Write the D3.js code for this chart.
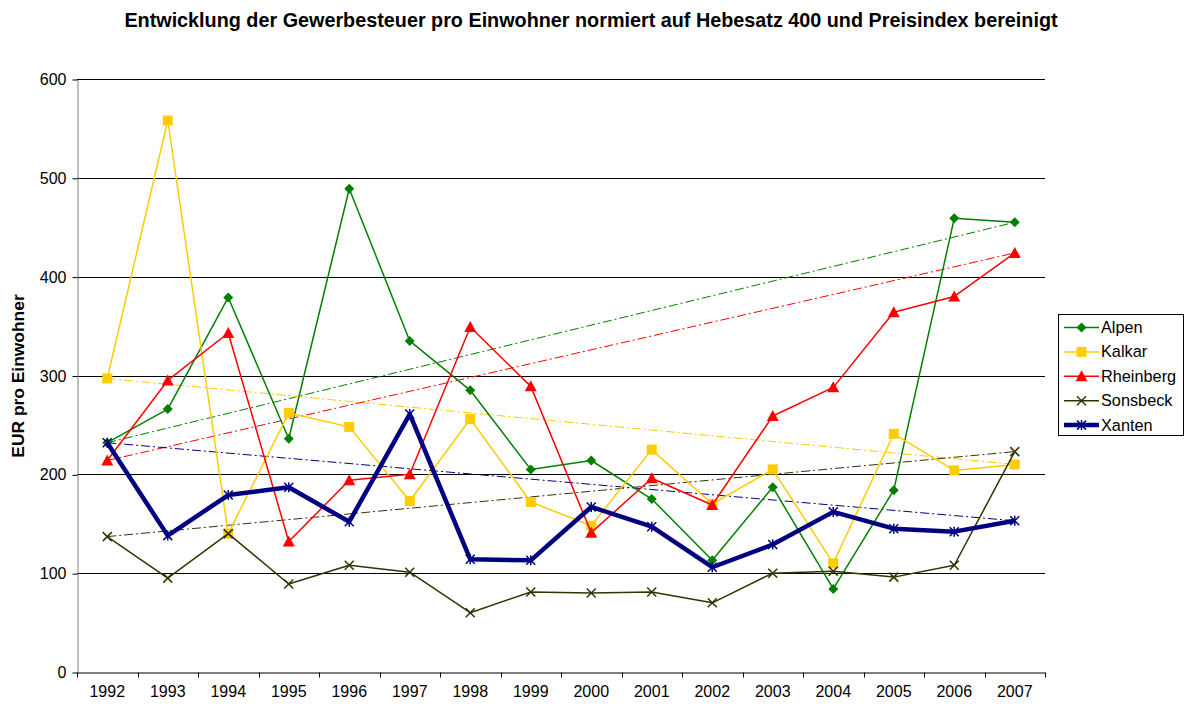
<!DOCTYPE html>
<html>
<head>
<meta charset="utf-8">
<script src="https://cdn.jsdelivr.net/npm/d3@7"></script>
<style>
	body { margin: 0; background: #fff; }
	text { font-family: Arial, "Liberation Sans", sans-serif; }
</style>
</head>
<body>
<div id="chart"></div>
<script>
// categories
var years = ['1992', '1993', '1994', '1995', '1996', '1997', '1998', '1999',
	'2000', '2001', '2002', '2003', '2004', '2005', '2006', '2007'];

// series values (EUR pro Einwohner)
var alpen = [232, 266, 379, 236, 489, 335, 285, 205, 214, 175, 113, 187, 84, 184, 459, 455];
var kalkar = [297, 558, 140, 262, 248, 173, 256, 172, 148, 225, 170, 205, 110, 241, 204, 210];
var rheinberg = [214, 295, 343, 132, 194, 200, 349, 289, 141, 196, 169, 259, 288, 364, 380, 424];
var sonsbeck = [137, 95, 140, 89, 108, 101, 60, 81, 80, 81, 70, 100, 102, 96, 108, 223];
var xanten = [232, 138, 179, 187, 152, 261, 114, 113, 167, 147, 106, 129, 162, 145, 142, 153];

var yTicks = [0, 100, 200, 300, 400, 500, 600];

var seriesNames = ['Alpen', 'Kalkar', 'Rheinberg', 'Sonsbeck', 'Xanten'];
var seriesValues = [alpen, kalkar, rheinberg, sonsbeck, xanten];

var styles = {
	Alpen: { color: '#008000', width: 1.5, marker: 'diamond' },
	Kalkar: { color: '#FFCC00', width: 1.5, marker: 'square' },
	Rheinberg: { color: '#FF0000', width: 1.5, marker: 'triangle' },
	Sonsbeck: { color: '#333300', width: 1.5, marker: 'cross' },
	Xanten: { color: '#000080', width: 4.5, marker: 'star' }
};

var width = 1191;
var height = 704;
var plot = { left: 77, right: 1045, top: 79, bottom: 672 };

var svg = d3.select('#chart')
	.append('svg')
	.attr('width', width)
	.attr('height', height);

var x = d3.scaleBand()
	.domain(years)
	.range([plot.left, plot.right]);

var y = d3.scaleLinear()
	.domain([0, 600])
	.range([plot.bottom, plot.top]);

function cx(year) {
	return x(year) + x.bandwidth() / 2;
}

// title
svg.append('text')
	.attr('x', 591)
	.attr('y', 27)
	.attr('text-anchor', 'middle')
	.style('font-size', '19.8px')
	.style('font-weight', 'bold')
	.text('Entwicklung der Gewerbesteuer pro Einwohner normiert auf Hebesatz 400 und Preisindex bereinigt');

// y axis title
svg.append('text')
	.attr('transform', 'translate(24,376) rotate(-90)')
	.attr('text-anchor', 'middle')
	.style('font-size', '17.4px')
	.style('font-weight', 'bold')
	.text('EUR pro Einwohner');

// grid lines
svg.append('g')
	.selectAll('line')
	.data(yTicks.filter(function (t) { return t > 0; }))
	.enter()
	.append('line')
	.attr('x1', plot.left)
	.attr('x2', plot.right)
	.attr('y1', function (d) { return Math.round(y(d)) + 0.5; })
	.attr('y2', function (d) { return Math.round(y(d)) + 0.5; })
	.attr('stroke', '#000')
	.attr('stroke-width', 1);

// y axis
var yAxis = svg.append('g')
	.attr('transform', 'translate(' + (plot.left + 0.5) + ',0.5)')
	.call(d3.axisLeft(y).tickValues(yTicks).tickSize(5).tickPadding(6).tickSizeOuter(0));
yAxis.select('.domain').attr('stroke', '#808080');
yAxis.selectAll('.tick line').attr('stroke', '#000');
yAxis.selectAll('text')
	.style('font-size', '16px')
	.style('font-family', 'Arial, "Liberation Sans", sans-serif')
	.attr('fill', '#000');

// x axis: ticks sit on category boundaries
var xAxis = svg.append('g')
	.attr('transform', 'translate(0,' + (plot.bottom + 0.5) + ')')
	.call(d3.axisBottom(x).tickSize(0).tickPadding(13));
xAxis.select('.domain').attr('stroke', '#000');
xAxis.selectAll('text')
	.style('font-size', '16px')
	.style('font-family', 'Arial, "Liberation Sans", sans-serif')
	.attr('fill', '#000');

xAxis.selectAll('line.boundary')
	.data(years.concat(['end']))
	.enter()
	.append('line')
	.attr('class', 'boundary')
	.attr('x1', function (d, i) { return Math.round(plot.left + i * x.bandwidth()) + 0.5; })
	.attr('x2', function (d, i) { return Math.round(plot.left + i * x.bandwidth()) + 0.5; })
	.attr('y1', 0)
	.attr('y2', 5)
	.attr('stroke', '#000');

// markers
function drawMarker(g, type, color, px, py) {
	if (type === 'diamond') {
		g.append('path')
			.attr('d', 'M' + px + ',' + (py - 5) + 'L' + (px + 5) + ',' + py + 'L' + px + ',' + (py + 5) + 'L' + (px - 5) + ',' + py + 'Z')
			.attr('fill', color);
	} else if (type === 'square') {
		g.append('rect')
			.attr('x', px - 5)
			.attr('y', py - 5)
			.attr('width', 10)
			.attr('height', 10)
			.attr('fill', color);
	} else if (type === 'triangle') {
		g.append('path')
			.attr('d', 'M' + px + ',' + (py - 6) + 'L' + (px + 6) + ',' + (py + 5) + 'L' + (px - 6) + ',' + (py + 5) + 'Z')
			.attr('fill', color);
	} else if (type === 'cross' || type === 'star') {
		g.append('path')
			.attr('d', 'M' + (px - 4.5) + ',' + (py - 4.5) + 'L' + (px + 4.5) + ',' + (py + 4.5) +
				'M' + (px + 4.5) + ',' + (py - 4.5) + 'L' + (px - 4.5) + ',' + (py + 4.5) +
				(type === 'star' ? 'M' + px + ',' + (py - 5) + 'L' + px + ',' + (py + 5) : ''))
			.attr('stroke', color)
			.attr('stroke-width', 1.5)
			.attr('fill', 'none');
	}
}

var line = d3.line()
	.x(function (d, i) { return cx(years[i]); })
	.y(function (d) { return y(d); });

// trend lines (first to last point), dash-dot
seriesNames.forEach(function (name, k) {
	var values = seriesValues[k];
	var last = values.length - 1;
	svg.append('line')
		.attr('x1', cx(years[0]))
		.attr('y1', y(values[0]))
		.attr('x2', cx(years[last]))
		.attr('y2', y(values[last]))
		.attr('stroke', styles[name].color)
		.attr('stroke-width', 1)
		.style('stroke-dasharray', '9,3,2,3');
});

// series lines and markers
seriesNames.forEach(function (name, k) {
	var values = seriesValues[k];
	var s = styles[name];
	var g = svg.append('g');

	g.append('path')
		.datum(values)
		.attr('d', line)
		.attr('fill', 'none')
		.attr('stroke', s.color)
		.attr('stroke-width', s.width)
		.attr('stroke-linejoin', 'round');

	values.forEach(function (v, i) {
		drawMarker(g, s.marker, s.color, cx(years[i]), y(v));
	});
});

// legend
var legend = svg.append('g');
legend.append('rect')
	.attr('x', 1058.5)
	.attr('y', 314.5)
	.attr('width', 125)
	.attr('height', 121)
	.attr('fill', '#fff')
	.attr('stroke', '#000');

seriesNames.forEach(function (name, i) {
	var s = styles[name];
	var ly = 327.5 + i * 24.4;
	var item = legend.append('g');
	item.append('line')
		.attr('x1', 1064)
		.attr('x2', 1099)
		.attr('y1', ly)
		.attr('y2', ly)
		.attr('stroke', s.color)
		.attr('stroke-width', s.width);
	drawMarker(item, s.marker, s.color, 1081.5, ly);
	item.append('text')
		.attr('x', 1101)
		.attr('y', ly + 5.5)
		.style('font-size', '16.3px')
		.text(name);
});
</script>
</body>
</html>
